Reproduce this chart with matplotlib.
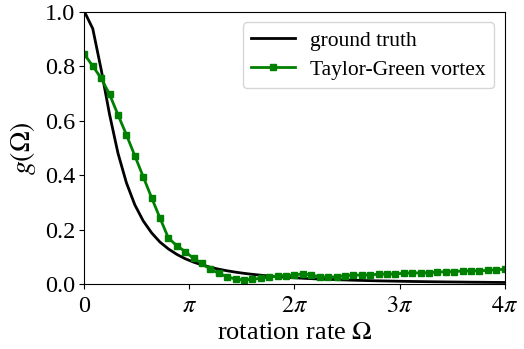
#!/usr/bin/env python3
"""Correlation g(Omega) vs rotation rate: ground truth vs Taylor-Green vortex estimate."""
import numpy as np
import matplotlib
matplotlib.use("Agg")
import matplotlib.pyplot as plt

plt.rcParams["font.family"] = ["Liberation Serif", "DejaVu Serif"]
plt.rcParams["mathtext.fontset"] = "stix"

# rotation rate samples, 0 .. 4 pi
n_pts = 51
omega = np.linspace(0.0, 4 * np.pi, n_pts)

ground_truth = [
    1.000, 0.937, 0.787, 0.622, 0.480, 0.372, 0.291, 0.232, 0.188, 0.154,
    0.129, 0.109, 0.093, 0.0805, 0.0702, 0.0617, 0.0546, 0.0487, 0.0437, 0.0394,
    0.0357, 0.0325, 0.0297, 0.0272, 0.0250, 0.0231, 0.0214, 0.0199, 0.0185, 0.0173,
    0.0162, 0.0152, 0.0142, 0.0134, 0.0126, 0.0119, 0.0113, 0.0107, 0.0101, 0.0096,
    0.0092, 0.0087, 0.0083, 0.0079, 0.0076, 0.0073, 0.0069, 0.0067, 0.0064, 0.0061,
    0.0059,
]

taylor_green = [
    0.843, 0.800, 0.755, 0.696, 0.621, 0.548, 0.471, 0.394, 0.317, 0.242,
    0.169, 0.141, 0.119, 0.094, 0.076, 0.054, 0.039, 0.027, 0.018, 0.015,
    0.018, 0.021, 0.025, 0.030, 0.031, 0.033, 0.038, 0.033, 0.027, 0.025,
    0.027, 0.031, 0.033, 0.033, 0.034, 0.036, 0.037, 0.037, 0.040, 0.041,
    0.041, 0.042, 0.044, 0.045, 0.046, 0.048, 0.049, 0.049, 0.050, 0.053,
    0.054,
]

xtick_pos = [0, np.pi, 2 * np.pi, 3 * np.pi, 4 * np.pi]
xtick_labels = ["0", r"$\pi$", r"$2\pi$", r"$3\pi$", r"$4\pi$"]
ytick_pos = [0.0, 0.2, 0.4, 0.6, 0.8, 1.0]

fig = plt.figure(figsize=(5.24, 3.49), dpi=100)
ax = fig.add_axes([0.161, 0.186, 0.802, 0.781])

ax.plot(omega, ground_truth, color="black", linewidth=2, label="ground truth")
ax.plot(omega, taylor_green, color="green", linewidth=2, marker="s",
        markersize=4.5, label="Taylor-Green vortex")

ax.set_xlim(0, 4 * np.pi)
ax.set_ylim(0, 1)
ax.set_xticks(xtick_pos)
ax.set_xticklabels(xtick_labels)
ax.set_yticks(ytick_pos)
ax.set_yticklabels([f"{v:.1f}" for v in ytick_pos])
ax.tick_params(labelsize=17.5, pad=3)
ax.tick_params(axis="x", pad=5)

ax.set_xlabel(r"rotation rate $\Omega$", fontsize=19, labelpad=4)
ax.set_ylabel(r"$g(\Omega)$", fontsize=20, labelpad=5)

ax.legend(loc="upper right", fontsize=15.5, borderaxespad=0.5,
          labelspacing=0.4, handletextpad=0.7)

fig.savefig("out.png", dpi=100)
